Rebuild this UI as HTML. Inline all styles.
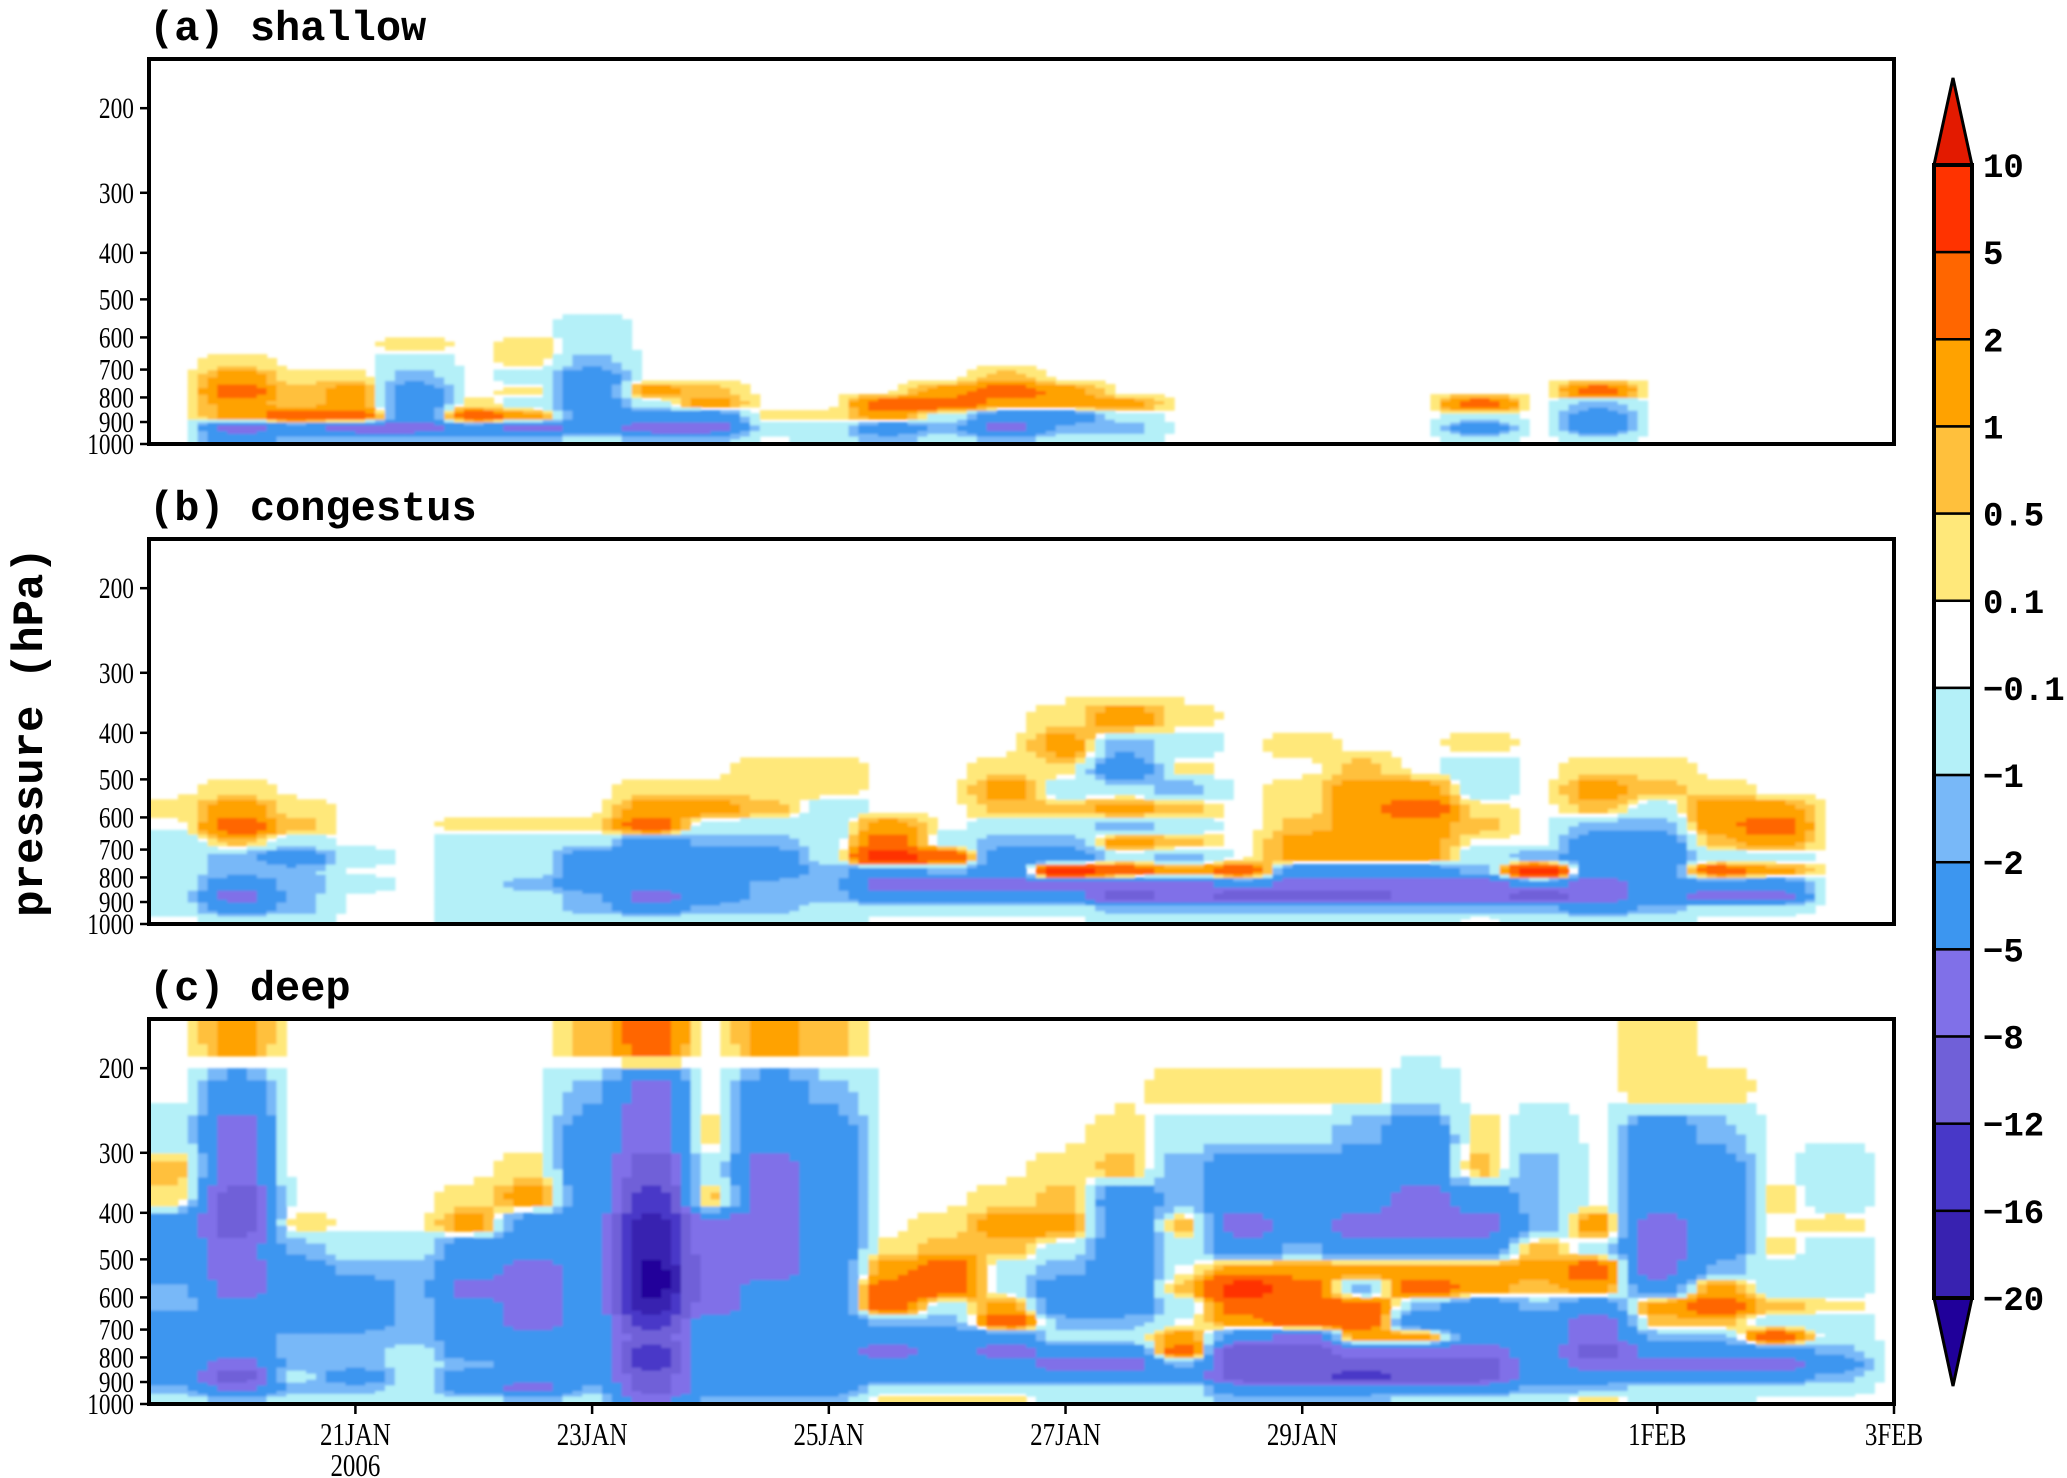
<!DOCTYPE html>
<html><head><meta charset="utf-8"><style>
html,body{margin:0;padding:0;background:#fff;}
svg{display:block;}
</style></head><body>
<svg id="fig" width="2067" height="1478" viewBox="0 0 2067 1478" xmlns="http://www.w3.org/2000/svg">
<defs>
<filter id="soft" x="-5%" y="-5%" width="110%" height="110%"><feGaussianBlur stdDeviation="1.2"/></filter>
<clipPath id="clipA"><rect x="149" y="59" width="1745" height="385"/></clipPath>
<clipPath id="clipB"><rect x="149" y="539" width="1745" height="385"/></clipPath>
<clipPath id="clipC"><rect x="149" y="1019" width="1745" height="385"/></clipPath>
</defs>
</svg>
<script>
// ---- data ----
// time of column start (days relative to 21JAN 00Z), 0.5 day columns
const colStart = -1.75;
const colStep = 0.5;
// pressure level boundaries (hPa), bottom to top
const levels = [1000,950,900,850,800,750,700,650,600,550,500,450,400,350,300,250,200,158];
// class codes -> representative value
const codeValues = {'0':0,'a':0.3,'b':0.7,'c':1.5,'d':3,'e':7,'f':12,'1':-0.5,'2':-1.5,'3':-3.5,'4':-6.5,'5':-10,'6':-14,'7':-18,'8':-22};
// contour class bounds and colors
const bounds = [-20,-16,-12,-8,-5,-2,-1,-0.1,0.1,0.5,1,2,5,10];
const colors = ['#20009a','#3822b0','#4838c8','#7060d8','#8070e8','#3c96f0','#78b8f8','#b4f0f8','#ffffff','#ffe87a','#ffc03c','#ffa200','#ff6600','#ff3300','#e31a00'];
const cbLabels = ['10','5','2','1','0.5','0.1','\u22120.1','\u22121','\u22122','\u22125','\u22128','\u221212','\u221216','\u221220'];
// each column string: rows top (158-200 hPa) to bottom (950-1000 hPa)
const shallowCols = [
"00000000000000000","0000000000acdcc43","00000000000abbd32","00000000000accd42","000000000a1233342",
"0000000000000ad32","000000000aa1a1c42","00000000112333331","000000000000c1342","000000000000bc342",
"00000000000000a10","00000000000000a11","0000000000000dc32","000000000000cd121","00000000000bdc342",
"000000000000cc321","0000000000000c121","00000000000000000","00000000000000000","00000000000000000",
"00000000000000000","00000000000000000","0000000000000d131","00000000000000000","000000000000d2331",
"00000000000000000","00000000000000000","00000000000000000","00000000000000000","00000000000000000"];
const congestusCols = [
"00000000a01111110","0000000acdb223431","00000000ab1322221","00000000000101000","00000000000000000",
"000000000a1111111","000000000a1112111","000000000a1333221","0000000acd3333431","0000000ac12333321",
"000000aab12332221","000000aa111122211","000000000cde34310","00000000001d24310","000000acb12334310",
"0000aca1b123e4310","0000c231c2c1d4521","0000a1a2b1b2c4421","000000000000d3521","00000a0aabcc34521",
"000000bccccc34521","0000000cdccc34421","00000a11ab0124420","000000000002e3521","000000acb23334431",
"000000ab123333321","0000000accb1d3410","00000000cdc1c3410","00000000000000000","00000000000000000"];
const deepCols = [
"001ba333223333321","c3445544433334542","00000a23333222121","00000012333222321","00000012222211111",
"0000ac33433332331","000ac334444333342","b2333333333333321","d4456778876566554","00a1b444443333332",
"c3344444333333332","b2333333333333332","000000acdd234331a","00000abdd1233331a","0000acb11cd34331a",
"000abc12332134311","00ab3333332134311","0a122b10b10cd2311","0a13343cedc355532","0a13332cddd455532",
"0a23343c2ddc45632","0133443cd23c45531","00ab343cc33345531","001222bcb23333321","00000c1dc3445432a",
"aa3334443cb234311","0a233332cdb234311","0000a0a11b1d34310","00011a111a1123210","00000000000000000"];
const yTicks = [200,300,400,500,600,700,800,900,1000];
const xTickDays = [0,2,4,6,8,11,13];
const xTickLabels = ['21JAN','23JAN','25JAN','27JAN','29JAN','1FEB','3FEB'];

// ---- layout ----
const NS='http://www.w3.org/2000/svg';
const svg=document.getElementById('fig');
const L=149,R=1894,H=385;
const dayMin=-1.744,dayMax=13;
const pTop=158;
function xScale(d){return L+(d-dayMin)/(dayMax-dayMin)*(R-L);}
function yScale(p,bottom){return bottom-Math.log(1000/p)/Math.log(1000/pTop)*H;}
function colorFor(v){let i=0;while(i<bounds.length&&v>=bounds[i])i++;return colors[i];}
function mk(tag,attrs,parent){const e=document.createElementNS(NS,tag);for(const k in attrs)e.setAttribute(k,attrs[k]);(parent||svg).appendChild(e);return e;}
function sharp(t){return t<0.5?0.5*Math.pow(2*t,2):1-0.5*Math.pow(2-2*t,2);}

const nRows=levels.length-1;
const rowLn=[];
for(let r=0;r<nRows;r++){const li=levels.length-2-r;rowLn.push((Math.log(levels[li])+Math.log(levels[li+1]))/2);}

function sample(cols,d,lnp){
 let fc=(d-colStart)/colStep-0.5;
 fc=Math.max(0,Math.min(cols.length-1,fc));
 const c0=Math.floor(fc),c1=Math.min(cols.length-1,c0+1),tc=sharp(fc-c0);
 let r0,r1,tr;
 if(lnp<=rowLn[0]){r0=r1=0;tr=0;}
 else if(lnp>=rowLn[nRows-1]){r0=r1=nRows-1;tr=0;}
 else{for(let r=0;r<nRows-1;r++){if(lnp>=rowLn[r]&&lnp<=rowLn[r+1]){r0=r;r1=r+1;tr=sharp((lnp-rowLn[r])/(rowLn[r+1]-rowLn[r]));break;}}}
 const v=(c,r)=>codeValues[cols[c][r]]||0;
 const a=v(c0,r0)*(1-tc)+v(c1,r0)*tc;
 const b=v(c0,r1)*(1-tc)+v(c1,r1)*tc;
 return a*(1-tr)+b*tr;
}

const panels=[
 {cols:shallowCols,top:59,title:'(a) shallow',clip:'clipA',name:'shallow'},
 {cols:congestusCols,top:539,title:'(b) congestus',clip:'clipB',name:'congestus'},
 {cols:deepCols,top:1019,title:'(c) deep',clip:'clipC',name:'deep'}];

const subX=6,subY=4;
panels.forEach((pn,pi)=>{
 const bottom=pn.top+H;
 const g0=mk('g',{'clip-path':'url(#'+pn.clip+')'});
 
 
 const g=mk('g',{filter:'url(#soft)'},g0);
 const nC=pn.cols.length*subX;
 const dStep=colStep/subX;
 for(let ci=0;ci<nC;ci++){
  const d0=colStart+ci*dStep,d1=d0+dStep,dm=(d0+d1)/2;
  const x0=xScale(d0),x1=xScale(d1);
  for(let li=0;li<levels.length-1;li++){
   const lb=Math.log(levels[li]),lt=Math.log(levels[li+1]);
   for(let s=0;s<subY;s++){
    const la=lb+(lt-lb)*s/subY,lc=lb+(lt-lb)*(s+1)/subY;
    const v=sample(pn.cols,dm,(la+lc)/2);
    if(v>-0.1&&v<0.1)continue;
    const yB=yScale(Math.exp(la),bottom),yT=yScale(Math.exp(lc),bottom);
    const c=mk('rect',{x:x0.toFixed(1),y:yT.toFixed(1),width:(x1-x0+0.6).toFixed(1),height:(yB-yT+0.6).toFixed(1),fill:colorFor(v)},g);
    
    
   }
  }
 }
 const fr=mk('rect',{x:L,y:pn.top,width:R-L,height:H,fill:'none',stroke:'#000','stroke-width':4});
 
 
 const t=mk('text',{x:149,y:pn.top-19,'font-family':'Liberation Mono, monospace','font-weight':'bold','font-size':42});
 t.textContent=pn.title;
 
 
 yTicks.forEach(p=>{
  const y=yScale(p,bottom);
  mk('line',{x1:L-9,x2:L,y1:y,y2:y,stroke:'#000','stroke-width':2.5});
  const tx=mk('text',{x:0,y:0,'font-family':'Liberation Serif, serif','font-size':30,'text-anchor':'end',transform:'translate(134,'+(y+10)+') scale(0.78,1)'});
  tx.textContent=p;
  
  
 });
 if(pi===2){
  xTickDays.forEach((d,i)=>{
   const x=xScale(d);
   mk('line',{x1:x,x2:x,y1:bottom,y2:bottom+10,stroke:'#000','stroke-width':2.5});
   const tx=mk('text',{x:0,y:0,'font-family':'Liberation Serif, serif','font-size':32,'text-anchor':'middle',transform:'translate('+x+','+(bottom+41)+') scale(0.78,1)'});
   tx.textContent=xTickLabels[i];
   
   
  });
  const yr=mk('text',{x:0,y:0,'font-family':'Liberation Serif, serif','font-size':32,'text-anchor':'middle',transform:'translate('+xScale(0)+','+(bottom+72)+') scale(0.78,1)'});
  yr.textContent='2006';
  
  
 }
});

// y-axis title
const yt=mk('text',{x:0,y:0,'font-family':'Liberation Mono, monospace','font-weight':'bold','font-size':44,'text-anchor':'middle',transform:'translate(42,732) rotate(-90)'});
yt.textContent='pressure (hPa)';



// colorbar
const cbX=1934,cbW=38,cbTop=165,boxH=(1298-165)/13;
const cb=mk('g',{});


for(let i=0;i<13;i++){
 const r=mk('rect',{x:cbX,y:cbTop+i*boxH,width:cbW,height:boxH,fill:colors[13-i],stroke:'#000','stroke-width':2.5},cb);
 
 
}
mk('polygon',{points:cbX+','+cbTop+' '+(cbX+cbW)+','+cbTop+' '+(cbX+cbW/2)+',78',fill:colors[14],stroke:'#000','stroke-width':3},cb);
mk('polygon',{points:cbX+','+(cbTop+13*boxH)+' '+(cbX+cbW)+','+(cbTop+13*boxH)+' '+(cbX+cbW/2)+',1386',fill:colors[0],stroke:'#000','stroke-width':3},cb);
mk('rect',{x:cbX,y:cbTop,width:cbW,height:13*boxH,fill:'none',stroke:'#000','stroke-width':4},cb);
cbLabels.forEach((lab,i)=>{
 const y=cbTop+i*boxH;
 const tx=mk('text',{x:1983,y:y+12,'font-family':'Liberation Mono, monospace','font-weight':'bold','font-size':34},cb);
 tx.textContent=lab;
 
 
});
</script>
</body></html>
